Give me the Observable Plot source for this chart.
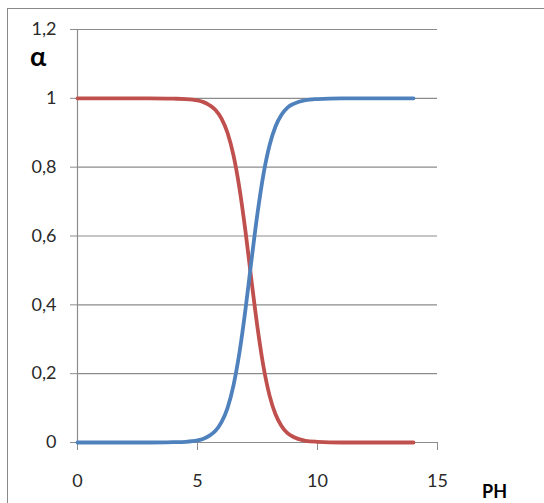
<!DOCTYPE html>
<html><head><meta charset="utf-8">
<script src="https://cdn.jsdelivr.net/npm/d3@7"></script>
<script src="https://cdn.jsdelivr.net/npm/@observablehq/plot@0.6"></script>
<style>
body{margin:0;background:#fff;overflow:hidden}
#wrap{position:relative;width:544px;height:503px}
#border{position:absolute;left:7px;top:8px;width:600px;height:600px;border:1.5px solid #8a8a8a;box-sizing:border-box}
#chart{position:absolute;left:0;top:0}
.lab{position:absolute;font-family:Lato,"Open Sans",sans-serif;font-weight:bold;color:#000;line-height:1}
</style></head>
<body>
<div id="wrap"><div id="border"></div><div id="chart"></div>
<div class="lab" style="left:30px;top:42px;font-size:27px">α</div>
<div class="lab" style="left:482px;top:482px;font-size:18px">PH</div>
</div>
<script>
const pH   = [0,1,2,3,4,4.5,5,5.25,5.5,5.75,6,6.25,6.5,6.75,7,7.25,7.5,7.75,8,8.25,8.5,8.75,9,9.5,10,11,12,13,14];
const blue = [0,0,0,0,0.001,0.002,0.006,0.011,0.02,0.034,0.059,0.10,0.166,0.262,0.387,0.53,0.666,0.78,0.863,0.918,0.952,0.973,0.984,0.995,0.998,1,1,1,1];
const red  = [1,1,1,1,0.999,0.998,0.994,0.989,0.98,0.966,0.941,0.90,0.834,0.738,0.613,0.47,0.334,0.22,0.137,0.082,0.048,0.027,0.016,0.005,0.002,0,0,0,0];
const yTicks = [0,0.2,0.4,0.6,0.8,1,1.2];
const xTicks = [0,5,10,15];

const blueData = pH.map((x,i)=>({x,y:blue[i]}));
const redData = pH.map((x,i)=>({x,y:red[i]}));

const chart = Plot.plot({
  width:544, height:503,
  marginLeft:77, marginRight:107, marginTop:29, marginBottom:61,
  style:{fontFamily:"Lato, 'Open Sans', sans-serif", fontSize:"18px", color:"#333", background:"transparent"},
  x:{domain:[0,15]},
  y:{domain:[0,1.2]},
  marks:[
    Plot.ruleY(yTicks.filter(d=>d>0), {stroke:"#8c8c8c", strokeWidth:1.2}),
    Plot.ruleX([0], {y1:0, y2:1.2, stroke:"#8c8c8c", strokeWidth:1.2}),
    Plot.ruleY([0], {stroke:"#8c8c8c", strokeWidth:1.2}),
    Plot.axisY({ticks:yTicks, tickSize:7, tickPadding:14, fontSize:18, tickFormat:d=>String(d).replace(".",","), stroke:"#8c8c8c", fill:"#2a2a2a", label:null}),
    Plot.axisX({ticks:xTicks, tickSize:8, tickPadding:24, fontSize:18, stroke:"#8c8c8c", fill:"#2a2a2a", label:null}),
    Plot.line(redData, {x:"x", y:"y", stroke:"#C0504D", strokeWidth:3.8, curve:"monotone-x"}),
    Plot.line(blueData, {x:"x", y:"y", stroke:"#4F81BD", strokeWidth:3.8, curve:"monotone-x"})
  ]
});
document.getElementById("chart").appendChild(chart);
</script>
</body></html>
